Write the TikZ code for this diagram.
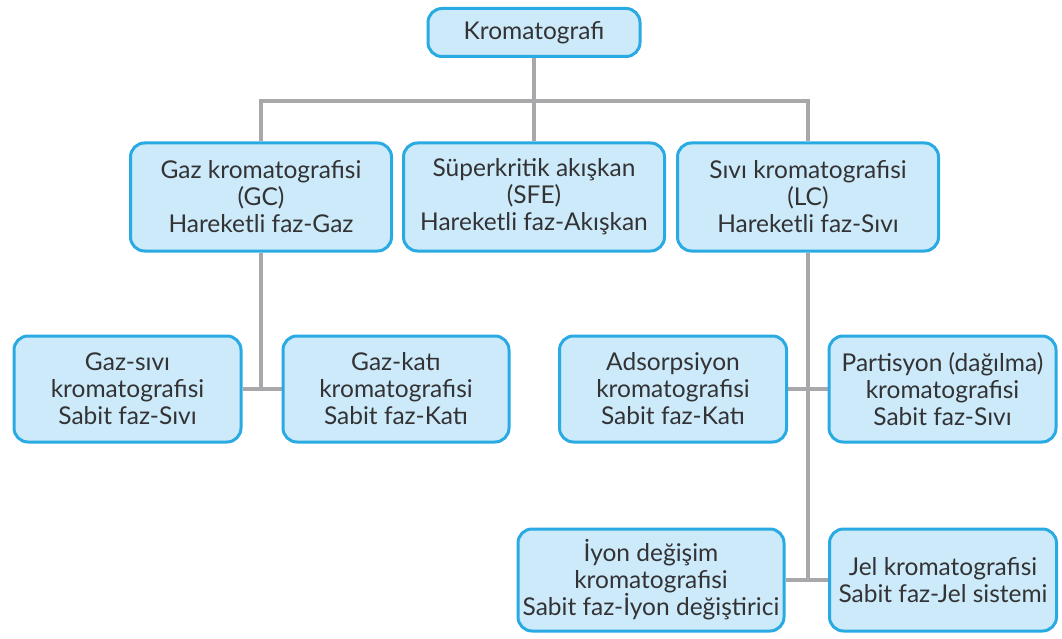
\documentclass[tikz,border=0pt]{standalone}
\usepackage{fontspec}
\setmainfont{Lato}
\usetikzlibrary{backgrounds}
\definecolor{boxline}{HTML}{2AAAE2}
\definecolor{boxfill}{HTML}{CCEAF9}
\definecolor{txt}{HTML}{333335}
\definecolor{conncol}{HTML}{A8A8AA}
\begin{document}
\begin{tikzpicture}[x=1pt,y=-1pt,
  box/.style={draw=boxline, line width=3pt, fill=boxfill, rounded corners=14pt,
    align=center, text=txt, font=\fontsize{24.5}{27}\selectfont, inner sep=0pt},
  conn/.style={draw=conncol, line width=4pt}]
\useasboundingbox (0,0) rectangle (1062,639);
\node[box, minimum width=212pt, minimum height=48pt] (K) at (534,32.5) {Kromatografi};
\node[box, minimum width=261pt, minimum height=108pt] (GC) at (261,197) {Gaz kromatografisi\\(GC)\\Hareketli faz-Gaz};
\node[box, minimum width=261pt, minimum height=108pt] (SFE) at (534,197) {Süperkritik akışkan\\(SFE)\\Hareketli faz-Akışkan};
\node[box, minimum width=261pt, minimum height=108pt] (LC) at (808,197) {Sıvı kromatografisi\\(LC)\\Hareketli faz-Sıvı};
\node[box, minimum width=227pt, minimum height=106pt] (GS) at (127.5,389) {Gaz-sıvı\\kromatografisi\\Sabit faz-Sıvı};
\node[box, minimum width=226pt, minimum height=106pt] (GK) at (396,389) {Gaz-katı\\kromatografisi\\Sabit faz-Katı};
\node[box, minimum width=227pt, minimum height=106pt] (AD) at (673,389) {Adsorpsiyon\\kromatografisi\\Sabit faz-Katı};
\node[box, minimum width=227pt, minimum height=106pt] (PA) at (942.5,389) {Partisyon (dağılma)\\kromatografisi\\Sabit faz-Sıvı};
\node[box, minimum width=266pt, minimum height=102pt] (IY) at (651,580) {İyon değişim\\kromatografisi\\Sabit faz-İyon değiştirici};
\node[box, minimum width=227pt, minimum height=102pt] (JE) at (943,580) {Jel kromatografisi\\Sabit faz-Jel sistemi};
\coordinate (hL) at (261,101);
\coordinate (hR) at (808,101);
\coordinate (gcEnd) at (261,389);
\coordinate (lcEnd) at (808,580);
\begin{pgfonlayer}{background}
\draw[conn] (K.south) -- (SFE.north);
\draw[conn] (GC.north) -- (hL) -- (hR) -- (LC.north);
\draw[conn] (GC.south) -- (gcEnd);
\draw[conn] (GS.east) -- (GK.west);
\draw[conn] (LC.south) -- (lcEnd);
\draw[conn] (AD.east) -- (PA.west);
\draw[conn] (IY.east) -- (JE.west);
\end{pgfonlayer}
\end{tikzpicture}
\end{document}
